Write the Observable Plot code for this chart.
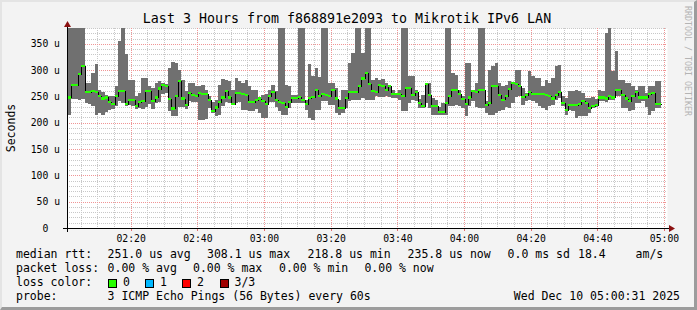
<!DOCTYPE html>
<html><head><meta charset="utf-8">
<script src="https://cdn.jsdelivr.net/npm/d3@7"></script>
<script src="https://cdn.jsdelivr.net/npm/@observablehq/plot@0.6"></script>
<style>
body{margin:0;background:#fff;}
#wrap{position:relative;width:697px;height:310px;background:#f3f3f3;overflow:hidden;font-family:"DejaVu Sans Mono",monospace;}
#wrap svg{position:absolute;left:0;top:0;}
svg text{white-space:pre;}
.t{position:absolute;white-space:pre;color:#000;line-height:14px;font-size:11.5px;font-family:"DejaVu Sans Mono",monospace;}
.box{position:absolute;width:7px;height:7px;border:1px solid #000;}
#wm{position:absolute;left:683px;top:6px;writing-mode:vertical-rl;white-space:pre;font-size:8.3px;line-height:9px;color:#b4b4b4;font-family:"DejaVu Sans Mono",monospace;}
#border{position:absolute;left:0;top:0;width:697px;height:310px;box-sizing:border-box;border-top:2px solid #e4e4e4;border-left:2px solid #e4e4e4;border-right:3px solid #9c9c9c;border-bottom:3px solid #9c9c9c;pointer-events:none;}
</style></head>
<body>
<div id="wrap"></div>
<script>
// ---- data (µs) ----
const med = [248,271,272,292,308,258,259,261,258,251, 246,248,240,236,251,261,260,236,244,244,
 232,240,241,260,260,242,248,265,271,270, 245,227,251,280,246,234,256,253,251,257,
 255,254,243,222,229,240,248,261,248,236, 257,257,254,252,240,240,244,246,241,236,
 251,258,244,239,237,230,239,247,247,249, 244,236,247,249,263,251,255,253,251,262,
 246,228,228,247,258,258,258,269,284,295, 274,260,258,272,270,262,270,255,255,255,
 250,266,266,253,258,237,232,274,253,232, 232,220,220,237,251,263,263,255,245,236,
 248,260,258,263,262,234,237,269,269,252, 244,250,264,275,274,269,249,252,258,255,
 255,255,255,253,250,246,253,258,237,225, 234,234,234,236,241,237,228,231,233,248,
 248,246,250,248,263,263,252,246,242,250, 258,248,248,248,255,256,236,236];
const hi = [420,420,420,420,420,275,275,294,311,262, 258,253,250,250,269,355,420,330,282,282,
 250,256,285,285,269,266,276,279,276,274, 304,315,313,301,282,260,276,276,269,269,
 272,263,250,239,244,272,283,282,279,263, 285,279,276,282,269,262,263,249,253,255,
 263,272,260,420,420,272,269,253,253,420, 420,244,312,288,304,287,420,420,276,276,
 266,244,263,263,313,332,420,420,332,420, 420,282,285,282,283,276,269,263,256,263,
 420,420,288,288,263,245,253,276,276,247, 244,230,237,420,420,294,291,262,250,314,
 314,260,276,420,420,241,300,307,314,276, 269,272,279,277,301,301,266,256,298,288,
 285,285,269,282,276,285,307,310,250,247, 260,260,263,260,256,247,247,248,245,263,
 260,370,420,298,336,282,282,276,276,269, 263,269,269,256,269,269,279,279];
const lo = [215,246,245,244,245,238,235,232,214,218, 215,220,224,226,232,241,237,232,234,232,
 226,228,226,230,235,226,237,240,255,257, 222,212,212,230,230,226,241,240,240,206,
 206,207,228,218,212,214,231,240,237,234, 237,240,225,225,222,222,226,218,209,209,
 240,239,230,222,215,215,228,237,237,237, 237,225,209,206,225,225,241,241,234,234,
 218,215,218,228,241,244,244,244,247,244, 244,244,250,249,249,251,249,247,247,244,
 222,222,237,244,241,228,228,237,228,215, 215,215,215,215,231,231,234,231,228,212,
 231,241,230,228,228,218,215,215,218,222, 225,230,228,237,249,250,234,241,244,241,
 237,231,228,225,231,234,244,247,231,215, 225,222,209,212,212,212,218,228,230,241,
 241,240,244,244,250,250,228,228,222,225, 237,237,241,230,215,222,228,228];
const yTicks = [0,50,100,150,200,250,300,350];
const yTickLabels = ["0","50 u","100 u","150 u","200 u","250 u","300 u","350 u"];
const title = "Last 3 Hours from f868891e2093 to Mikrotik IPv6 LAN";
const yLabel = "Seconds";
const rttLabels = ["251.0 us avg","308.1 us max","218.8 us min","235.8 us now","0.0 ms sd","18.4","am/s"];
const lossLabels = ["0.00 % avg","0.00 % max","0.00 % min","0.00 % now"];
const lossColorNames = ["0","1","2","3/3"];
const lossColors = ["#26ff00","#00b8ff","#ff0000","#a00000"];
const probeText = "3 ICMP Echo Pings (56 Bytes) every 60s";
const stampText = "Wed Dec 10 05:00:31 2025";
const watermark = "RRDTOOL / TOBI OETIKER";

// ---- time axis ----
const xStart = new Date(Date.UTC(2025,11,10,2,0,54));
const xEnd = new Date(Date.UTC(2025,11,10,5,0,54));
const stepStart = Date.UTC(2025,11,10,2,1,12);
const STEP = 60000;
const rows = med.map((m,i)=>({t0:new Date(stepStart+i*STEP), t1:new Date(stepStart+(i+1)*STEP), lo:lo[i], hi:hi[i], med:m}));
const linePts = rows.map(r=>({t:r.t0, v:r.med})).concat([{t:rows[rows.length-1].t1, v:rows[rows.length-1].med}]);

const majorX = d3.utcMinute.every(20).range(xStart, xEnd);
const minorX = d3.utcMinute.every(5).range(xStart, xEnd).filter(d=>d.getUTCMinutes()%20!==0);
const majorY = d3.range(50, 381, 50);
const minorY = d3.range(10, 381, 10).filter(v=>v%50!==0);

const chart = Plot.plot({
  width: 697, height: 310,
  marginLeft: 67, marginRight: 30, marginTop: 28, marginBottom: 82,
  style: {background:"transparent", fontFamily:"DejaVu Sans Mono", fontSize:"9.75px", color:"#000"},
  x: {type:"utc", domain:[xStart, xEnd]},
  y: {domain:[0,380]},
  marks: [
    Plot.frame({fill:"#fff", stroke:"none"}),
    Plot.gridX({ticks:minorX, stroke:"#c8c8c8", strokeOpacity:1, strokeDasharray:"1,1", shapeRendering:"crispEdges"}),
    Plot.gridY({ticks:minorY, stroke:"#c8c8c8", strokeOpacity:1, strokeDasharray:"1,1", shapeRendering:"crispEdges"}),
    Plot.gridX({ticks:majorX, stroke:"#f09595", strokeOpacity:1, strokeDasharray:"1,1", shapeRendering:"crispEdges"}),
    Plot.gridY({ticks:majorY, stroke:"#f09595", strokeOpacity:1, strokeDasharray:"1,1", shapeRendering:"crispEdges"}),
    Plot.rect(rows, {x1:"t0", x2:"t1", y1:"lo", y2:"hi", fill:"#707070", shapeRendering:"crispEdges", clip:true}),
    Plot.line(linePts, {x:"t", y:"v", curve:"step-after", stroke:"#000", strokeWidth:1, shapeRendering:"crispEdges"}),
    Plot.rect(rows, {x1:"t0", x2:"t1", y1:d=>d.med-2, y2:d=>d.med+2, fill:"#26ff00", shapeRendering:"crispEdges"}),
    Plot.axisX({ticks:majorX, tickFormat:d3.utcFormat("%H:%M"), tickSize:0, tickPadding:7, label:null, fill:"#000"}),
    Plot.axisY({ticks:yTicks, tickFormat:(d,i)=>yTickLabels[i].includes(" ")?yTickLabels[i]:yTickLabels[i]+"  ", tickSize:0, tickPadding:7.5, label:null, fill:"#000"})
  ]
});

const wrap = document.getElementById("wrap");
wrap.appendChild(chart);

// axis lines, arrows, tick marks
const sx = chart.scale("x"), sy = chart.scale("y");
const [px0, px1] = sx.range, [py0, py1] = sy.range;
const g = d3.select(chart).append("g").attr("shape-rendering","crispEdges");
majorX.forEach(d=>{
  const x = Math.round(sx.apply(d))+0.5;
  g.append("line").attr("x1",x).attr("x2",x).attr("y1",py0).attr("y2",py0+3).attr("stroke","#e07070");
});
g.append("line").attr("x1",px0-4).attr("x2",px1+3).attr("y1",py0+0.5).attr("y2",py0+0.5).attr("stroke","#000");
g.append("line").attr("x1",px0+0.5).attr("x2",px0+0.5).attr("y1",py0+4).attr("y2",py1-4).attr("stroke","#000");
d3.select(chart).append("polygon")
  .attr("points",`${px0-3},${py1-1} ${px0+4},${py1-1} ${px0+0.5},${py1-7}`).attr("fill","#8b1010");
d3.select(chart).append("polygon")
  .attr("points",`${px1+2},${py0-3} ${px1+2},${py0+4} ${px1+8},${py0+0.5}`).attr("fill","#8b1010");

// html texts
function addText(txt, left, cy, opts={}) {
  const d = document.createElement("div");
  d.className = "t"; d.textContent = txt;
  d.style.top = (cy-7)+"px";
  if (opts.right!==undefined) { d.style.right = opts.right+"px"; } else { d.style.left = left+"px"; }
  if (opts.size) d.style.fontSize = opts.size;
  wrap.appendChild(d); return d;
}
const tEl = addText(title, 0, 19, {size:"13.3px"});
tEl.style.left="0"; tEl.style.width="694px"; tEl.style.textAlign="center";
const yl = addText(yLabel, 0, 0, {size:"11.5px"});
yl.style.left="11px"; yl.style.top="128px"; yl.style.transform="translate(-50%,-50%) rotate(-90deg)"; yl.style.lineHeight="12px";

addText("median rtt:", 16, 254);
const rttX = [107.6, 207, 307.6, 407.6, 507.6, 578, 635.6];
rttLabels.forEach((s,i)=>addText(s, rttX[i], 254));
addText("packet loss:", 16, 268);
const lossX = [107.6, 193, 279, 364.4];
lossLabels.forEach((s,i)=>addText(s, lossX[i], 268));
addText("loss color:", 16, 282);
const boxX = [108, 145, 182, 219.5];
lossColorNames.forEach((s,i)=>{
  const b = document.createElement("div"); b.className="box";
  b.style.left = boxX[i]+"px"; b.style.top = "278.5px"; b.style.background = lossColors[i];
  wrap.appendChild(b);
  addText(s, boxX[i]+15, 282);
});
addText("probe:", 16, 296);
addText(probeText, 107.6, 296);
addText(stampText, 0, 296, {right:17});

const wm = document.createElement("div"); wm.id="wm"; wm.textContent = watermark; wrap.appendChild(wm);
const bd = document.createElement("div"); bd.id="border"; wrap.appendChild(bd);
</script>
</body></html>
